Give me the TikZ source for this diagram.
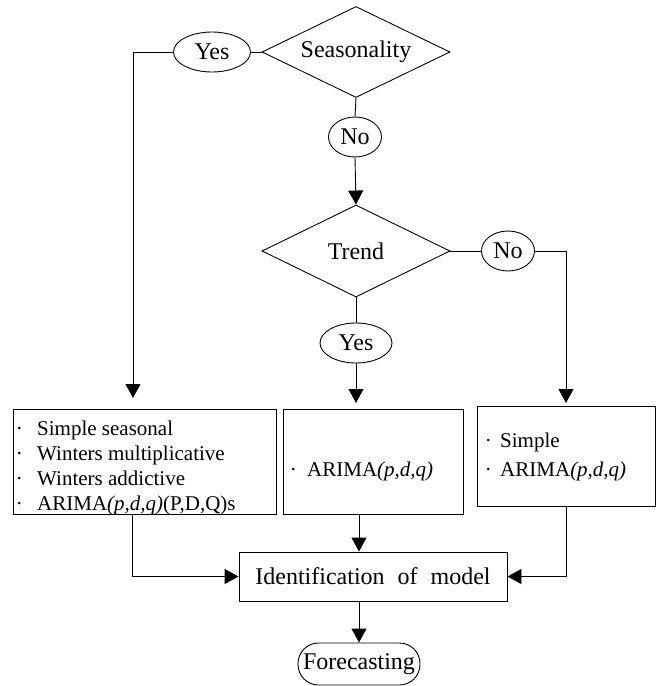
\documentclass[tikz,border=0pt]{standalone}
\usepackage{fontspec}
\setmainfont{Liberation Serif}
\usetikzlibrary{shapes.geometric,arrows.meta}
\begin{document}
\begin{tikzpicture}[x=1pt,y=-1pt, line width=0.9pt,
  decision/.style={diamond, draw, inner sep=0pt, aspect=2.066,
    minimum width=188pt, minimum height=91pt,
    font=\fontsize{24}{28}\selectfont},
  answer/.style={ellipse, draw, inner sep=0pt, minimum height=40pt,
    font=\fontsize{24}{28}\selectfont},
  modelbox/.style={rectangle, draw, inner sep=0pt},
  item/.style={anchor=base west, inner sep=0pt, font=\fontsize{21}{25}\selectfont},
  flow/.style={-{Triangle[length=14pt,width=15pt]}},
]
\useasboundingbox (0,0) rectangle (659,686);

% decisions and their answers
\node[decision] (season) at (356,52) {Seasonality};
\node[answer, minimum width=77pt] (yesS) at (212,52) {Yes};
\node[answer, minimum width=53pt] (noS) at (355,137) {No};
\node[decision, aspect=2.04, minimum height=92pt] (trend) at (356,251) {Trend};
\node[answer, minimum width=53pt] (noT) at (508,251) {No};
\node[answer, minimum width=72pt] (yesT) at (356,343) {Yes};

% model groups
\node[modelbox, minimum width=263pt, minimum height=105pt] (boxS) at (144.5,461.5) {};
\node[modelbox, minimum width=180pt, minimum height=105pt] (boxT) at (373,461.5) {};
\node[modelbox, minimum width=178pt, minimum height=100pt] (boxN) at (566,456) {};

\node[item] (s1) at (15.4,435) {·\hspace{14.4pt}Simple seasonal};
\node[item] (s2) at (15.4,460) {·\hspace{14.4pt}Winters multiplicative};
\node[item] (s3) at (15.4,485) {·\hspace{14.4pt}Winters addictive};
\node[item] (s4) at (15.4,510) {·\hspace{14.4pt}ARIMA\textit{(p,d,q)}(P,D,Q)s};
\node[item] (t1) at (289.4,476) {·\hspace{10.4pt}ARIMA\textit{(p,d,q)}};
\node[item] (n1) at (484.4,447) {·\hspace{8.4pt}Simple};
\node[item] (n2) at (484.4,476) {·\hspace{8.4pt}ARIMA\textit{(p,d,q)}};

% identification and forecasting
\node[modelbox, minimum width=268pt, minimum height=49pt,
  font=\fontsize{24}{28}\selectfont] (ident) at (373,576.5)
  {Identification\hspace{13pt}of\hspace{13pt}model};
\node[rectangle, draw, rounded corners=20.5pt, inner sep=0pt,
  minimum width=122pt, minimum height=42pt,
  font=\fontsize{24}{28}\selectfont] (forecast) at (359,664) {Forecasting};

% helper points for the connectors
\coordinate (dropS) at (133,398);
\coordinate (dropT) at (356,403);
\coordinate (dropN) at (566,403);
\coordinate (spine) at (359,0);
\coordinate (leftx) at (132,0);

% connectors
\draw (yesS.east) -- (season.west);
\draw[flow] (yesS.west) -| (dropS);
\draw (season.south) -- (noS.north);
\draw[flow] (noS.south) -- (trend.north);
\draw (trend.east) -- (noT.west);
\draw[flow] (noT.east) -| (dropN);
\draw (trend.south) -- (yesT.north);
\draw[flow] (yesT.south) -- (dropT);
\draw[flow] (boxT.south -| spine) -- (ident.north -| spine);
\draw[flow] (boxS.south -| leftx) |- (ident.west);
\draw[flow] (boxN.south) |- (ident.east);
\draw[flow] (ident.south -| spine) -- (forecast.north);
\end{tikzpicture}
\end{document}
